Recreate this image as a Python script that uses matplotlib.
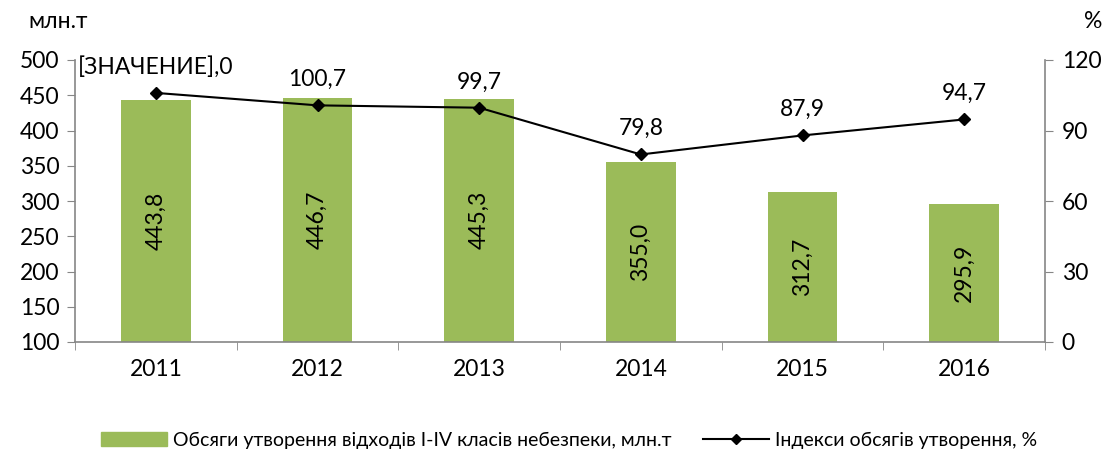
import matplotlib
matplotlib.use("Agg")
import matplotlib.pyplot as plt
from matplotlib.lines import Line2D
from matplotlib.patches import Patch

plt.rcParams['font.family'] = ['Lato', 'DejaVu Sans']

years = ['2011', '2012', '2013', '2014', '2015', '2016']
volumes = [443.8, 446.7, 445.3, 355.0, 312.7, 295.9]
indices = [106.0, 100.7, 99.7, 79.8, 87.9, 94.7]
volume_labels = ['443,8', '446,7', '445,3', '355,0', '312,7', '295,9']
index_labels = ['[ЗНАЧЕНИЕ],0', '100,7', '99,7', '79,8', '87,9', '94,7']
left_ticks = [100, 150, 200, 250, 300, 350, 400, 450, 500]
right_ticks = [0, 30, 60, 90, 120]

bar_color = '#9BBB59'
axis_color = '#868686'
fs = 16.5

fig = plt.figure(figsize=(11.16, 4.5), dpi=100)
ax = fig.add_axes([75/1116, 1-342/450, (1045-75)/1116, (342-60)/450])
x = list(range(len(years)))
bars = ax.bar(x, [v - 100 for v in volumes], bottom=100, width=0.43, color=bar_color, zorder=2)
ax.set_xlim(-0.5, len(years) - 0.5)
ax.set_ylim(100, 500)
ax.set_yticks(left_ticks)
ax.set_yticklabels([str(t) for t in left_ticks], fontsize=fs)
ax.set_xticks(x)
ax.set_xticklabels(years, fontsize=fs)
ax.set_xticks([i + 0.5 for i in range(-1, len(years))], minor=True)
ax.tick_params(axis='x', which='major', length=0, pad=12)
ax.tick_params(axis='x', which='minor', length=6, color=axis_color, direction='out')
ax.tick_params(axis='y', length=6, color=axis_color, direction='out', pad=5)
for s in ['top', 'right']:
    ax.spines[s].set_visible(False)
for s in ['left', 'bottom']:
    ax.spines[s].set_color(axis_color)
    ax.spines[s].set_linewidth(1.2)

for xi, v, lab in zip(x, volumes, volume_labels):
    ax.text(xi, (100 + v) / 2, lab, rotation=90, ha='center', va='center', fontsize=fs, zorder=3)

ax2 = ax.twinx()
ax2.set_ylim(0, 120)
ax2.set_yticks(right_ticks)
ax2.set_yticklabels([str(t) for t in right_ticks], fontsize=fs)
ax2.tick_params(axis='y', length=6, color=axis_color, direction='out', pad=6)
for s in ['top', 'left', 'bottom']:
    ax2.spines[s].set_visible(False)
ax2.spines['right'].set_color(axis_color)
ax2.spines['right'].set_linewidth(1.2)
ax2.plot(x, indices, color='black', lw=1.5, marker='D', markersize=6, zorder=4)
for xi, v, lab in zip(x, indices, index_labels):
    ax2.annotate(lab, (xi, v), xytext=(0, 11), textcoords='offset points',
                 ha='center', va='bottom', fontsize=fs)

fig.text(28/1116, 1-22/450, 'млн.т', fontsize=fs, ha='left', va='center')
fig.text(1084/1116, 1-22/450, '%', fontsize=fs, ha='left', va='center')

handles = [Patch(color=bar_color),
           Line2D([0], [0], color='black', lw=1.5, marker='D', markersize=5)]
labels = ['Обсяги утворення відходів I-IV класів небезпеки, млн.т', 'Індекси обсягів утворення, %']
fig.legend(handles, labels, loc='center', bbox_to_anchor=(0.51, 1-440/450), ncol=2,
           frameon=False, fontsize=14, handlelength=3.4, columnspacing=1.6, handletextpad=0.3)

fig.savefig('out.png', dpi=100)
